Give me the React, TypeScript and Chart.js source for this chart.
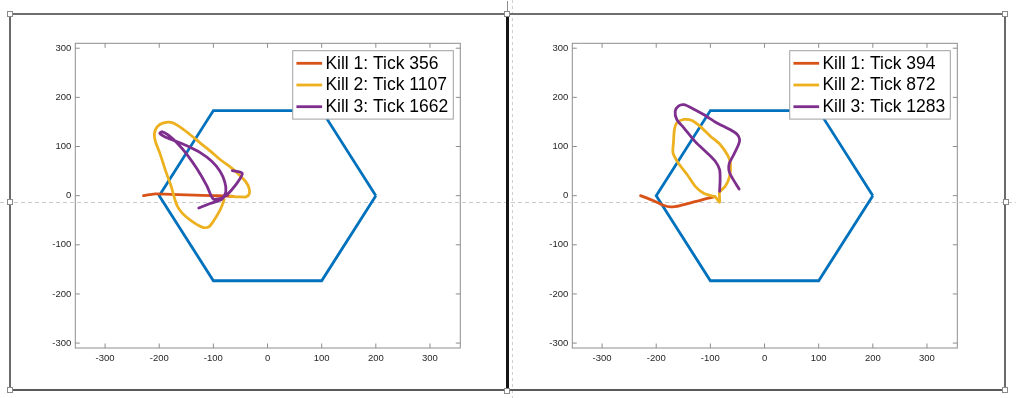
import React, { useEffect, useRef } from "react";
import { Chart, registerables } from "chart.js";

Chart.register(...registerables);

// ---------- data ----------
const tickValues = [-300, -200, -100, 0, 100, 200, 300];
const xRange = [-355, 356];
const yRange = [-310, 310];

const hexX = [200, 100, -100, -200, -100, 100, 200];
const hexY = [0, 173.2, 173.2, 0, -173.2, -173.2, 0];

const leftLabels = ["Kill 1: Tick 356", "Kill 2: Tick 1107", "Kill 3: Tick 1662"];
const rightLabels = ["Kill 1: Tick 394", "Kill 2: Tick 872", "Kill 3: Tick 1283"];

// left panel
const leftKill1X = [-229, -218, -207, -190, -165, -135, -105, -80, -63];
const leftKill1Y = [0, 2, 3.5, 3, 2, 1, 0, -0.5, -1.5];
const leftKill2X = [-69, -50, -40, -34, -34, -40, -50, -65, -87, -105, -124, -145, -162, -178, -192, -204, -209, -207, -199, -189, -178, -168, -158, -140, -121, -109, -100, -87, -80];
const leftKill2Y = [-1.5, -2.5, -2.5, 3, 15, 28, 40, 55, 73, 90, 107, 126, 140, 149, 148, 140, 126, 110, 87, 53, 19, -18, -35, -52, -64, -64, -52, -28, -8];
const leftKill3X = [-127, -106, -84, -77, -79, -88, -103, -125, -150, -172, -190, -199, -194, -183, -167, -149, -130, -112, -100, -81, -66, -50, -47, -65];
const leftKill3Y = [-25, -16, -7, 8, 28, 50, 70, 88, 102, 112, 120, 127, 130, 123, 107, 84, 54, 20, -7, -3, 12, 36, 46, 51];

// right panel
const rightKill1X = [-229, -208, -188, -173, -155, -138, -120, -104, -92];
const rightKill1Y = [0, -9, -19, -23, -20, -15, -10, -5, -2];
const rightKill2X = [-91, -83, -83, -72.5, -64.5, -63, -68, -82, -100, -119, -134, -149, -162, -166.5, -168, -169, -159, -143, -128, -112.5, -94];
const rightKill2Y = [-2, -13, 7, 19, 39, 66, 82, 104, 121, 141, 153, 155, 148, 134, 110, 87, 66, 43, 19, 5, -1.5];
const rightKill3X = [-83, -82, -83, -91, -106, -128, -149, -162, -165, -159, -149, -134, -112.5, -88, -63, -50, -46, -48, -57, -65, -66, -63, -54, -47];
const rightKill3Y = [9, 32.5, 53, 70, 87, 110, 138, 155, 171.5, 182, 185, 178, 165, 148, 134, 124, 114, 104, 83, 66, 53, 43, 26, 13.6];

const killColors = ["#D95319", "#EDB120", "#7E2F8E"];
const hexColor = "#0072BD";

// ---------- helpers ----------
const zip = (xs: number[], ys: number[]) => xs.map((x, i) => ({ x, y: ys[i] }));

const W = 508;
const H = 398;
const AREA = { left: 75.3, top: 43.3, right: 460.3, bottom: 348 };
const FONT = "'Liberation Sans', Arial, Helvetica, sans-serif";

function makePlugin(labels: string[]) {
  return {
    id: "matlabDecor",
    afterDraw(chart: any) {
      const { ctx, chartArea: a, scales } = chart;
      ctx.save();
      // axes box
      ctx.strokeStyle = "#8e8e8e";
      ctx.lineWidth = 1;
      ctx.strokeRect(a.left, a.top, a.right - a.left, a.bottom - a.top);
      // inward ticks
      const tl = 4.5;
      ctx.beginPath();
      tickValues.forEach((v) => {
        const px = scales.x.getPixelForValue(v);
        ctx.moveTo(px, a.bottom);
        ctx.lineTo(px, a.bottom - tl);
        ctx.moveTo(px, a.top);
        ctx.lineTo(px, a.top + tl);
        const py = scales.y.getPixelForValue(v);
        ctx.moveTo(a.left, py);
        ctx.lineTo(a.left + tl, py);
        ctx.moveTo(a.right, py);
        ctx.lineTo(a.right - tl, py);
      });
      ctx.stroke();

      // legend
      ctx.font = `17.5px ${FONT}`;
      const textW = Math.max(...labels.map((l) => ctx.measureText(l).width));
      const boxW = 32.7 + textW + 5;
      const boxR = a.right - 7;
      const boxL = boxR - boxW;
      const boxT = a.top + 7.4;
      const rowH = 21.7;
      const boxB = boxT + 12.6 + rowH * (labels.length - 1) + 12.4;
      ctx.fillStyle = "#ffffff";
      ctx.fillRect(boxL, boxT, boxW, boxB - boxT);
      ctx.strokeStyle = "#a0a0a0";
      ctx.lineWidth = 1;
      ctx.strokeRect(boxL, boxT, boxW, boxB - boxT);
      labels.forEach((l, i) => {
        const cy = boxT + 12.6 + rowH * i;
        ctx.strokeStyle = killColors[i];
        ctx.lineWidth = 2.8;
        ctx.beginPath();
        ctx.moveTo(boxL + 3.7, cy);
        ctx.lineTo(boxL + 29.4, cy);
        ctx.stroke();
        ctx.fillStyle = "#000000";
        ctx.textBaseline = "middle";
        ctx.textAlign = "left";
        ctx.fillText(l, boxL + 32.7, cy + 0.5);
      });
      ctx.restore();
    },
  };
}

function makeConfig(kills: { x: number[]; y: number[] }[], labels: string[]): any {
  const datasets: any[] = kills.map((k, i) => ({
    label: labels[i],
    data: zip(k.x, k.y),
    borderColor: killColors[i],
    backgroundColor: killColors[i],
    borderWidth: 2.8,
    tension: 0.25,
    pointRadius: 0,
    showLine: true,
    fill: false,
    order: 3 - i,
    borderCapStyle: "round",
    borderJoinStyle: "round",
  }));
  datasets.push({
    label: "hexagon",
    data: zip(hexX, hexY),
    borderColor: hexColor,
    backgroundColor: hexColor,
    borderWidth: 2.8,
    tension: 0,
    pointRadius: 0,
    showLine: true,
    fill: false,
    order: 10,
  });
  const tickFont = { family: FONT, size: 9.5 };
  return {
    type: "scatter",
    data: { datasets },
    options: {
      animation: false,
      responsive: false,
      maintainAspectRatio: false,
      devicePixelRatio: 1,
      events: [],
      layout: {
        padding: { left: 0, top: AREA.top, right: W - AREA.right, bottom: 0 },
      },
      plugins: { legend: { display: false }, tooltip: { enabled: false }, title: { display: false } },
      scales: {
        x: {
          type: "linear",
          min: xRange[0],
          max: xRange[1],
          grid: { display: false, drawTicks: false },
          border: { display: false },
          ticks: { font: tickFont, color: "#262626", padding: 4.5, maxRotation: 0, autoSkip: false },
          afterBuildTicks: (s: any) => {
            s.ticks = tickValues.map((v) => ({ value: v }));
          },
          afterFit: (s: any) => {
            s.height = H - AREA.bottom;
          },
        },
        y: {
          type: "linear",
          min: yRange[0],
          max: yRange[1],
          grid: { display: false, drawTicks: false },
          border: { display: false },
          ticks: { font: tickFont, color: "#262626", padding: 4, autoSkip: false },
          afterBuildTicks: (s: any) => {
            s.ticks = tickValues.map((v) => ({ value: v }));
          },
          afterFit: (s: any) => {
            s.width = AREA.left;
          },
        },
      },
    },
    plugins: [makePlugin(labels)],
  };
}

function Panel(props: { left: number; kills: { x: number[]; y: number[] }[]; labels: string[] }) {
  const ref = useRef<HTMLCanvasElement>(null);
  useEffect(() => {
    if (!ref.current) return;
    const chart = new Chart(ref.current, makeConfig(props.kills, props.labels));
    return () => chart.destroy();
  }, []);
  return (
    <canvas
      ref={ref}
      width={W}
      height={H}
      style={{ position: "absolute", left: props.left, top: 0, width: W, height: H, zIndex: 1 }}
    />
  );
}

function Box(p: { l: number; t: number; w: number; h: number; bg: string; z?: number; border?: string }) {
  return (
    <div
      style={{
        position: "absolute",
        left: p.l,
        top: p.t,
        width: p.w,
        height: p.h,
        background: p.bg,
        zIndex: p.z ?? 2,
        border: p.border,
        boxSizing: "border-box",
      }}
    />
  );
}

const handles = [
  [9.5, 13.5],
  [507, 13.5],
  [1005, 13.5],
  [9.5, 202],
  [1005.5, 202],
  [9.5, 389.5],
  [507, 390.5],
  [1005, 390],
];

export default function App() {
  const leftKills = [
    { x: leftKill1X, y: leftKill1Y },
    { x: leftKill2X, y: leftKill2Y },
    { x: leftKill3X, y: leftKill3Y },
  ];
  const rightKills = [
    { x: rightKill1X, y: rightKill1Y },
    { x: rightKill2X, y: rightKill2Y },
    { x: rightKill3X, y: rightKill3Y },
  ];
  return (
    <div style={{ position: "absolute", left: 0, top: 0, width: 1016, height: 398, background: "#ffffff", overflow: "hidden" }}>
      {/* guide dashed lines */}
      <Box l={0} t={202} w={1016} h={1} z={0} bg="repeating-linear-gradient(to right, #c9c9c9 0px, #c9c9c9 4px, transparent 4px, transparent 7px)" />
      <Box l={512} t={0} w={1} h={398} z={0} bg="repeating-linear-gradient(to bottom, #cfcfcf 0px, #cfcfcf 3px, transparent 3px, transparent 6px)" />
      <Panel left={0} kills={leftKills} labels={leftLabels} />
      <Panel left={497} kills={rightKills} labels={rightLabels} />
      {/* frames */}
      <Box l={9} t={13} w={997} h={2} bg="#6f6f6f" />
      <Box l={9} t={13} w={2} h={378} bg="#6a6a6a" />
      <Box l={9} t={389} w={997} h={2} bg="#5a5a5a" />
      <Box l={1004} t={13} w={2} h={378} bg="#6a6a6a" />
      <Box l={506} t={13} w={2.5} h={378} bg="#151515" />
      <Box l={507} t={1} w={1} h={11} bg="#8a8a8a" />
      {handles.map((h, i) => (
        <Box key={i} l={h[0] - 3} t={h[1] - 3} w={6} h={6} bg="#ffffff" border="1px solid #8a8a8a" z={3} />
      ))}
    </div>
  );
}
